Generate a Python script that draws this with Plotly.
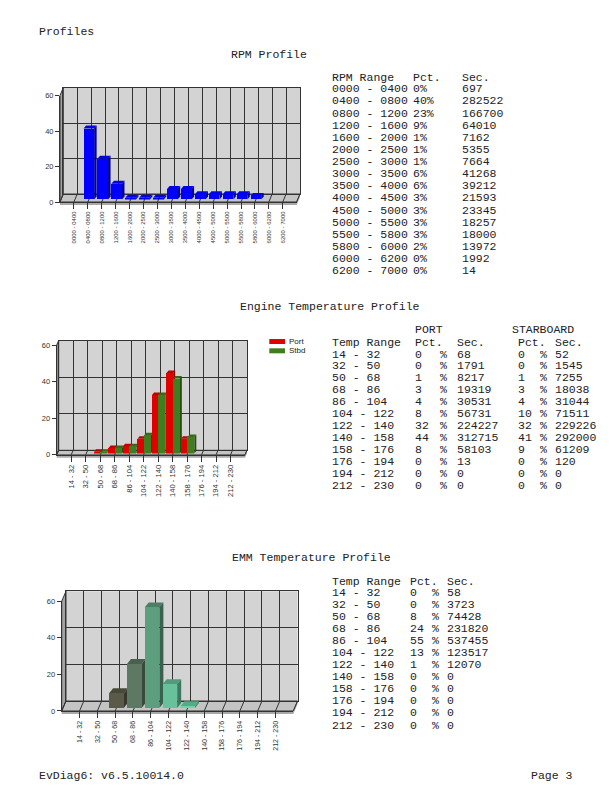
import plotly.graph_objects as go

W, H = 612, 792

# --- data ---
rpm_ranges = ["0000 - 0400", "0400 - 0800", "0800 - 1200", "1200 - 1600",
              "1600 - 2000", "2000 - 2500", "2500 - 3000", "3000 - 3500",
              "3500 - 4000", "4000 - 4500", "4500 - 5000", "5000 - 5500",
              "5500 - 5800", "5800 - 6000", "6000 - 6200", "6200 - 7000"]
rpm_pct = [0, 40, 23, 9, 1, 1, 1, 6, 6, 3, 3, 3, 3, 2, 0, 0]
rpm_sec = [697, 282522, 166700, 64010, 7162, 5355, 7664, 41268, 39212,
           21593, 23345, 18257, 18000, 13972, 1992, 14]

temp_ranges = ["14 - 32", "32 - 50", "50 - 68", "68 - 86", "86 - 104",
               "104 - 122", "122 - 140", "140 - 158", "158 - 176",
               "176 - 194", "194 - 212", "212 - 230"]
port_pct = [0, 0, 1, 3, 4, 8, 32, 44, 8, 0, 0, 0]
port_sec = [68, 1791, 8217, 19319, 30531, 56731, 224227, 312715, 58103, 13, 0, 0]
stbd_pct = [0, 0, 1, 3, 4, 10, 32, 41, 9, 0, 0, 0]
stbd_sec = [52, 1545, 7255, 18038, 31044, 71511, 229226, 292000, 61209, 120, 0, 0]

emm_pct = [0, 0, 8, 24, 55, 13, 1, 0, 0, 0, 0, 0]
emm_sec = [58, 3723, 74428, 231820, 537455, 123517, 12070, 0, 0, 0, 0, 0]

emm_colors = ['#4c4b3c', '#545342', '#5b5a48', '#5d7863', '#5d9e7f', '#67c29b',
              '#6ad6a6', '#72dcae', '#7ae0b4', '#82e4ba', '#8ae8c0', '#92ecc6']

MONO = "Liberation Mono"
SANS = "Liberation Sans"


def px(x):
    return x / W


def py(y):
    # page y (from the top) to paper y; small correction for how the page is shot
    return 1 - ((y - 3.3) / 0.9906) / H


def darker(c, f):
    c = c.lstrip('#')
    r, g, b = (int(c[i:i + 2], 16) for i in (0, 2, 4))
    return '#%02x%02x%02x' % (int(r * f), int(g * f), int(b * f))


fig = go.Figure()
shapes = []
annotations = []
layout_axes = {}

# chart frames (page pixels): front-left x, front-right x, y of 0, y of 60,
# wall depth, bar depth
charts = [
    dict(fx0=60, fx1=296.7, y0=201.7, ytop=95, dx=3.3, dy=8, bdx=2.5, bdy=3,
         labels=rpm_ranges, fs=6),
    dict(fx0=56.7, fx1=245, y0=455, ytop=345, dx=2, dy=4.5, bdx=2, bdy=2.5,
         labels=temp_ranges, fs=7.6),
    dict(fx0=61.7, fx1=293.3, y0=711.7, ytop=601.7, dx=4.3, dy=10, bdx=4, bdy=5,
         labels=temp_ranges, fs=7.1),
]


def ax_name(i, kind):
    return kind + ('' if i == 1 else str(i))


for k, c in enumerate(charts):
    n = len(c['labels'])
    fx0, fx1, y0, ytop, dx, dy = c['fx0'], c['fx1'], c['y0'], c['ytop'], c['dx'], c['dy']
    b, m, f = 3 * k + 1, 3 * k + 2, 3 * k + 3
    c['mid'] = m
    c['n'] = n

    # back wall with its grid
    layout_axes['xaxis' + ('' if b == 1 else str(b))] = dict(
        domain=[px(fx0 + dx), px(fx1 + dx)], range=[-1, n], anchor=ax_name(b, 'y'),
        tickmode='linear', tick0=-1, dtick=1, showgrid=True, gridcolor='#333',
        gridwidth=1, showticklabels=False, ticks='', zeroline=False,
        showline=True, mirror=True, linecolor='#333', fixedrange=True)
    layout_axes['yaxis' + ('' if b == 1 else str(b))] = dict(
        domain=[py(y0 - dy), py(ytop - dy)], range=[0, 60], anchor=ax_name(b, 'x'),
        tickmode='linear', tick0=0, dtick=20, showgrid=True, gridcolor='#333',
        gridwidth=1, showticklabels=False, ticks='', zeroline=False,
        showline=True, mirror=True, linecolor='#333', fixedrange=True)
    # bars sit a little into the depth
    mx, my = dx * 0.3, dy * 0.3
    layout_axes['xaxis' + str(m)] = dict(
        domain=[px(fx0 + mx), px(fx1 + mx)], range=[-1, n], anchor=ax_name(m, 'y'),
        visible=False, fixedrange=True)
    layout_axes['yaxis' + str(m)] = dict(
        domain=[py(y0 - my), py(ytop - my)], range=[0, 60], anchor=ax_name(m, 'x'),
        visible=False, fixedrange=True)
    # front axes: ticks and labels
    layout_axes['xaxis' + str(f)] = dict(
        domain=[px(fx0), px(fx1)], range=[-1, n], anchor=ax_name(f, 'y'),
        tickmode='array', tickvals=list(range(n)), ticktext=c['labels'],
        tickangle=-90, ticks='outside', ticklen=6, tickcolor='#333',
        showline=True, linecolor='#333', showgrid=False, zeroline=False,
        tickfont=dict(family=SANS, size=c['fs'], color='#333'), fixedrange=True)
    layout_axes['yaxis' + str(f)] = dict(
        domain=[py(y0), py(ytop)], range=[0, 60], anchor=ax_name(f, 'x'),
        tickmode='linear', tick0=0, dtick=20, ticks='outside', ticklen=4,
        tickcolor='#333', showline=True, linecolor='#333', showgrid=False,
        zeroline=False, tickfont=dict(family=SANS, size=7.5, color='#333'),
        fixedrange=True)
    for a in (b, f):
        fig.add_trace(go.Scatter(x=[None], y=[None], xaxis=ax_name(a, 'x'),
                                 yaxis=ax_name(a, 'y'), showlegend=False,
                                 hoverinfo='skip'))

    def pth(pts):
        return 'M ' + ' L '.join('%.5f %.5f' % (px(x), py(y)) for x, y in pts) + ' Z'

    # back wall fill
    shapes.append(dict(type='rect', xref='paper', yref='paper', layer='below',
                       x0=px(fx0 + dx), x1=px(fx1 + dx), y0=py(y0 - dy), y1=py(ytop - dy),
                       fillcolor='#d3d3d3', line=dict(width=0)))
    # left wall
    shapes.append(dict(type='path', xref='paper', yref='paper', layer='below',
                       path=pth([(fx0, y0), (fx0, ytop), (fx0 + dx, ytop - dy), (fx0 + dx, y0 - dy)]),
                       fillcolor='#a4a4a4', line=dict(color='#333', width=1)))
    # floor
    shapes.append(dict(type='path', xref='paper', yref='paper', layer='below',
                       path=pth([(fx0, y0), (fx1, y0), (fx1 + dx, y0 - dy), (fx0 + dx, y0 - dy)]),
                       fillcolor='#c4c4c4', line=dict(color='#333', width=1)))
    # floor thickness
    shapes.append(dict(type='path', xref='paper', yref='paper', layer='below',
                       path=pth([(fx0, y0), (fx1, y0), (fx1 + dx, y0 - dy), (fx1 + dx, y0 - dy + 3),
                                 (fx1, y0 + 3), (fx0, y0 + 3)]),
                       fillcolor='#a9a9a9', line=dict(width=0)))
    step = (fx1 - fx0) / (n + 1)
    for i in range(n + 2):
        xf = fx0 + i * step
        shapes.append(dict(type='line', xref='paper', yref='paper', layer='below',
                           x0=px(xf), y0=py(y0), x1=px(xf + dx), y1=py(y0 - dy),
                           line=dict(color='#333', width=1)))
    c['ux'] = step
    c['uy'] = (y0 - ytop) / 60.0


def bar_faces(c, centers, offset, width, values, colors, top_f):
    xr, yr = ax_name(c['mid'], 'x'), ax_name(c['mid'], 'y')
    ddx, ddy = c['bdx'] / c['ux'], c['bdy'] / c['uy']
    for xc, v, col in zip(centers, values, colors):
        if v <= 0:
            continue
        l = xc + offset
        r = l + width
        top = 'M %f %f L %f %f L %f %f L %f %f Z' % (l, v, r, v, r + ddx, v + ddy, l + ddx, v + ddy)
        side = 'M %f %f L %f %f L %f %f L %f %f Z' % (r, 0, r, v, r + ddx, v + ddy, r + ddx, ddy)
        shapes.append(dict(type='path', xref=xr, yref=yr, layer='between', path=top,
                           fillcolor=darker(col, top_f), line=dict(width=0)))
        shapes.append(dict(type='path', xref=xr, yref=yr, layer='between', path=side,
                           fillcolor=darker(col, 0.62), line=dict(width=0)))


# RPM bars
c0 = charts[0]
xs = list(range(len(rpm_pct)))
fig.add_trace(go.Bar(x=xs, y=rpm_pct, width=0.76, marker=dict(color='#0000ff', line=dict(width=0)),
                     xaxis=ax_name(c0['mid'], 'x'), yaxis=ax_name(c0['mid'], 'y'),
                     showlegend=False, name='RPM'))
bar_faces(c0, xs, -0.38, 0.76, rpm_pct, ['#0000ff'] * len(xs), 0.92)

# Engine bars
c1 = charts[1]
xs = list(range(len(port_pct)))
fig.add_trace(go.Bar(x=xs, y=port_pct, width=0.46, offset=-0.46,
                     marker=dict(color='#e00000', line=dict(width=0)),
                     xaxis=ax_name(c1['mid'], 'x'), yaxis=ax_name(c1['mid'], 'y'),
                     showlegend=False, name='Port'))
fig.add_trace(go.Bar(x=xs, y=stbd_pct, width=0.46, offset=0.0,
                     marker=dict(color='#3f7d1e', line=dict(width=0)),
                     xaxis=ax_name(c1['mid'], 'x'), yaxis=ax_name(c1['mid'], 'y'),
                     showlegend=False, name='Stbd'))
bar_faces(c1, xs, -0.46, 0.46, port_pct, ['#e00000'] * len(xs), 0.85)
bar_faces(c1, xs, 0.0, 0.46, stbd_pct, ['#3f7d1e'] * len(xs), 0.85)

# EMM bars
c2 = charts[2]
xs = list(range(len(emm_pct)))
fig.add_trace(go.Bar(x=xs, y=emm_pct, width=0.82, marker=dict(color=emm_colors, line=dict(width=0)),
                     xaxis=ax_name(c2['mid'], 'x'), yaxis=ax_name(c2['mid'], 'y'),
                     showlegend=False, name='EMM'))
bar_faces(c2, xs, -0.41, 0.82, emm_pct, emm_colors, 0.8)

# legend for the engine chart
for yy, col, name in ((339, '#e00000', 'Port'), (348.3, '#3f7d1e', 'Stbd')):
    shapes.append(dict(type='rect', xref='paper', yref='paper', x0=px(269.3), x1=px(285),
                       y0=py(yy + 5), y1=py(yy), fillcolor=col, line=dict(width=0)))
    annotations.append(dict(x=px(286.5), y=py(yy + 2.6), xref='paper', yref='paper', text=name,
                            showarrow=False, xanchor='left', yanchor='middle',
                            font=dict(family=SANS, size=8, color='#222')))


def txt(x, y, s, anchor='left', size=11.5):
    annotations.append(dict(x=px(x), y=py(y), xref='paper', yref='paper', text=s,
                            showarrow=False, xanchor=anchor, yanchor='middle',
                            borderpad=0, font=dict(family=MONO, size=size, color='#222')))


# page text
txt(38, 31, 'Profiles')
txt(268.5, 54, 'RPM Profile', 'center')
txt(330, 306, 'Engine Temperature Profile', 'center')
txt(311, 558, 'EMM Temperature Profile', 'center')
txt(38, 776, 'EvDiag6: v6.5.10014.0')
txt(574, 776, 'Page 3', 'right')

# RPM table
txt(331, 76.8, 'RPM Range')
txt(412, 76.8, 'Pct.')
txt(461, 76.8, 'Sec.')
for i, (r, p, s) in enumerate(zip(rpm_ranges, rpm_pct, rpm_sec)):
    yy = 88.3 + 12.15 * i
    txt(331, yy, r)
    txt(412, yy, '%d%%' % p)
    txt(461, yy, str(s))

# Engine table
txt(414, 329.5, 'PORT')
txt(511, 329.5, 'STARBOARD')
txt(331, 342, 'Temp Range')
txt(414, 342, 'Pct.')
txt(456, 342, 'Sec.')
txt(517, 342, 'Pct.')
txt(554, 342, 'Sec.')
for i, r in enumerate(temp_ranges):
    yy = 354 + 12.0 * i
    txt(331, yy, r)
    txt(414, yy, str(port_pct[i]))
    txt(439, yy, '%')
    txt(456, yy, str(port_sec[i]))
    txt(517, yy, str(stbd_pct[i]))
    txt(539, yy, '%')
    txt(554, yy, str(stbd_sec[i]))

# EMM table
txt(331, 582, 'Temp Range')
txt(409, 582, 'Pct.')
txt(446, 582, 'Sec.')
for i, r in enumerate(temp_ranges):
    yy = 593.3 + 12.04 * i
    txt(331, yy, r)
    txt(409, yy, str(emm_pct[i]))
    txt(431, yy, '%')
    txt(446, yy, str(emm_sec[i]))

fig.update_layout(
    width=W, height=H, autosize=False,
    margin=dict(l=0, r=0, t=0, b=0),
    paper_bgcolor='white', plot_bgcolor='rgba(0,0,0,0)',
    showlegend=False, bargap=0,
    shapes=shapes, annotations=annotations,
    **layout_axes
)

page_css = ("var s=document.documentElement.style, b=document.body.style;"
            "s.margin='0px';s.padding='0px';s.overflow='hidden';s.height='792px';"
            "b.margin='0px';b.padding='0px';b.overflow='hidden';b.height='792px';")
fig.write_html("out.html", config={'displayModeBar': False}, post_script=page_css)
